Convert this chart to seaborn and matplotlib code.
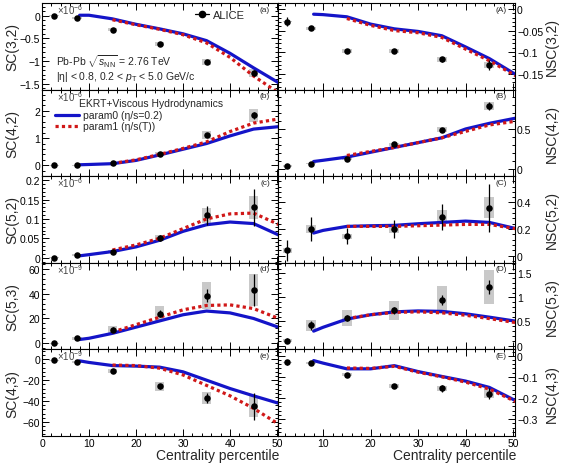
import numpy as np
import matplotlib
matplotlib.use("Agg")
import matplotlib.pyplot as plt
from matplotlib.lines import Line2D
from matplotlib.ticker import MultipleLocator, AutoMinorLocator, FuncFormatter
import seaborn as sns

# centrality bins (ALICE points) and model x grids
cent = [2.5, 7.5, 15, 25, 35, 45]
x_p0 = [8, 10, 15, 20, 25, 30, 35, 40, 45, 51]
x_p1 = [15, 20, 25, 30, 35, 40, 45, 51]

# SC(3,2) x1e-6
sc32 = [0.0, -0.05, -0.31, -0.63, -1.02, -1.26]
sc32_stat = [0.01, 0.01, 0.02, 0.03, 0.05, 0.07]
sc32_sys = [0.01, 0.02, 0.03, 0.04, 0.07, 0.09]
sc32_p0 = [0.01, 0.01, -0.07, -0.19, -0.29, -0.4, -0.55, -0.83, -1.15, -1.52]
sc32_p1 = [-0.09, -0.2, -0.3, -0.42, -0.6, -0.92, -1.33, -1.75]

# NSC(3,2)
nsc32 = [-0.029, -0.045, -0.098, -0.098, -0.117, -0.13]
nsc32_stat = [0.01, 0.002, 0.003, 0.003, 0.005, 0.012]
nsc32_sys = [0.002, 0.003, 0.005, 0.005, 0.006, 0.008]
nsc32_p0 = [-0.012, -0.013, -0.018, -0.035, -0.046, -0.052, -0.062, -0.088, -0.115, -0.155]
nsc32_p1 = [-0.022, -0.038, -0.05, -0.055, -0.066, -0.093, -0.12, -0.158]

# SC(4,2) x1e-6
sc42 = [0.0, 0.0, 0.07, 0.43, 1.11, 1.83]
sc42_stat = [0.005, 0.01, 0.02, 0.04, 0.08, 0.12]
sc42_sys = [0.01, 0.01, 0.03, 0.06, 0.15, 0.25]
sc42_p0 = [0.02, 0.03, 0.06, 0.18, 0.38, 0.59, 0.8, 1.08, 1.33, 1.43]
sc42_p1 = [0.07, 0.2, 0.4, 0.62, 0.86, 1.24, 1.55, 1.72]

# NSC(4,2)
nsc42 = [0.04, 0.07, 0.13, 0.31, 0.49, 0.79]
nsc42_stat = [0.02, 0.01, 0.01, 0.015, 0.02, 0.05]
nsc42_sys = [0.01, 0.01, 0.02, 0.02, 0.03, 0.05]
nsc42_p0 = [0.095, 0.11, 0.15, 0.21, 0.27, 0.33, 0.39, 0.5, 0.57, 0.64]
nsc42_p1 = [0.17, 0.22, 0.27, 0.33, 0.39, 0.47, 0.55, 0.6]

# SC(5,2) x1e-6
sc52 = [0.0, 0.007, 0.016, 0.051, 0.109, 0.13]
sc52_stat = [0.002, 0.002, 0.004, 0.008, 0.025, 0.047]
sc52_sys = [0.001, 0.002, 0.004, 0.008, 0.02, 0.03]
sc52_p0 = [0.005, 0.008, 0.016, 0.028, 0.045, 0.068, 0.085, 0.092, 0.088, 0.055]
sc52_p1 = [0.02, 0.033, 0.05, 0.075, 0.1, 0.113, 0.115, 0.082]

# NSC(5,2)
nsc52 = [0.04, 0.2, 0.145, 0.2, 0.29, 0.36]
nsc52_stat = [0.08, 0.09, 0.06, 0.07, 0.1, 0.18]
nsc52_sys = [0.02, 0.03, 0.02, 0.03, 0.05, 0.08]
nsc52_p0 = [0.17, 0.19, 0.22, 0.225, 0.228, 0.24, 0.25, 0.26, 0.25, 0.2]
nsc52_p1 = [0.22, 0.22, 0.22, 0.225, 0.23, 0.235, 0.235, 0.2]

# SC(5,3) x1e-9
sc53 = [0.0, 4, 10.8, 24, 38.5, 43]
sc53_stat = [0.5, 1, 2, 3, 5, 13]
sc53_sys = [0.5, 1, 3, 6, 11, 13]
sc53_p0 = [3, 4, 8, 13, 18, 23, 26, 24.5, 20, 12]
sc53_p1 = [9, 15, 21, 27, 30.5, 31, 28, 19]

# NSC(5,3)
nsc53 = [0.1, 0.42, 0.57, 0.73, 0.95, 1.22]
nsc53_stat = [0.05, 0.1, 0.07, 0.07, 0.1, 0.15]
nsc53_sys = [0.03, 0.12, 0.17, 0.2, 0.29, 0.35]
nsc53_p0 = [0.3, 0.38, 0.55, 0.64, 0.7, 0.72, 0.71, 0.66, 0.59, 0.5]
nsc53_p1 = [0.56, 0.64, 0.69, 0.7, 0.68, 0.63, 0.56, 0.47]

# SC(4,3) x1e-9
sc43 = [-1, -3, -11, -26, -37, -45]
sc43_stat = [0.5, 1, 1.5, 2.5, 5, 13]
sc43_sys = [0.5, 1, 2, 4, 6, 10]
sc43_p0 = [-1.5, -3, -6, -6.5, -7.5, -12, -20, -28, -35, -43]
sc43_p1 = [-5.5, -6, -8.5, -15, -25, -35, -47, -64]

# NSC(4,3)
nsc43 = [-0.031, -0.036, -0.09, -0.145, -0.155, -0.179]
nsc43_stat = [0.012, 0.01, 0.008, 0.01, 0.015, 0.025]
nsc43_sys = [0.003, 0.005, 0.008, 0.01, 0.013, 0.02]
nsc43_p0 = [-0.023, -0.035, -0.062, -0.062, -0.047, -0.075, -0.098, -0.12, -0.15, -0.218]
nsc43_p1 = [-0.058, -0.06, -0.05, -0.078, -0.1, -0.125, -0.158, -0.222]

sns.set_style("ticks")
plt.rcParams['font.family'] = ['Liberation Sans', 'DejaVu Sans']
plt.rcParams['mathtext.fontset'] = 'custom'
plt.rcParams['mathtext.rm'] = 'Liberation Sans'
plt.rcParams['mathtext.it'] = 'Liberation Sans:italic'
plt.rcParams['mathtext.bf'] = 'Liberation Sans:bold'
plt.rcParams['axes.linewidth'] = 0.8
plt.rcParams['axes.edgecolor'] = 'black'

BLUE = '#1414c8'
RED = '#d01818'
BOX = '#c9c9c9'

W, H = 561, 464
fig = plt.figure(figsize=(W / 100, H / 100), dpi=100)

top_px, bot_px = 4, 437
row_h = (bot_px - top_px) / 5
cols = [(42, 278), (278, 515)]

left_panels = [
    (sc32, sc32_stat, sc32_sys, sc32_p0, sc32_p1, (-1.63, 0.28), 0.5, 'SC(3,2)', '(a)', r'$\times10^{-6}$'),
    (sc42, sc42_stat, sc42_sys, sc42_p0, sc42_p1, (-0.4, 2.78), 1, 'SC(4,2)', '(b)', r'$\times10^{-6}$'),
    (sc52, sc52_stat, sc52_sys, sc52_p0, sc52_p1, (-0.013, 0.21), 0.05, 'SC(5,2)', '(c)', r'$\times10^{-6}$'),
    (sc53, sc53_stat, sc53_sys, sc53_p0, sc53_p1, (-5, 65), 20, 'SC(5,3)', '(d)', r'$\times10^{-9}$'),
    (sc43, sc43_stat, sc43_sys, sc43_p0, sc43_p1, (-73.5, 9.5), 20, 'SC(4,3)', '(e)', r'$\times10^{-9}$'),
]
right_panels = [
    (nsc32, nsc32_stat, nsc32_sys, nsc32_p0, nsc32_p1, (-0.187, 0.014), 0.05, 'NSC(3,2)', '(A)', None),
    (nsc42, nsc42_stat, nsc42_sys, nsc42_p0, nsc42_p1, (-0.088, 0.99), 0.5, 'NSC(4,2)', '(B)', None),
    (nsc52, nsc52_stat, nsc52_sys, nsc52_p0, nsc52_p1, (-0.054, 0.598), 0.2, 'NSC(5,2)', '(C)', None),
    (nsc53, nsc53_stat, nsc53_sys, nsc53_p0, nsc53_p1, (-0.08, 1.72), 0.5, 'NSC(5,3)', '(D)', None),
    (nsc43, nsc43_stat, nsc43_sys, nsc43_p0, nsc43_p1, (-0.38, 0.03), 0.1, 'NSC(4,3)', '(E)', None),
]

fmt = FuncFormatter(lambda v, p: ('%g' % round(v, 6)).replace('-', '\u2212'))

axes = {}
for c, panels in enumerate([left_panels, right_panels]):
    x0, x1 = cols[c]
    for r, (vals, stat, sys_, p0, p1, ylim, major, ylab, tag, scale) in enumerate(panels):
        y_top = top_px + r * row_h
        ax = fig.add_axes([x0 / W, 1 - (y_top + row_h) / H, (x1 - x0) / W, row_h / H])
        axes[(c, r)] = ax
        lo = np.array(vals) - np.array(sys_)
        ax.bar(cent, 2 * np.array(sys_), bottom=lo, width=2.1, color=BOX, zorder=1, linewidth=0)
        sns.lineplot(x=x_p0, y=p0, ax=ax, color=BLUE, linewidth=2.3, zorder=2, legend=False)
        sns.lineplot(x=x_p1, y=p1, ax=ax, color=RED, linewidth=2.3, linestyle=(0, (1, 1)),
                     zorder=3, legend=False)
        ax.errorbar(cent, vals, yerr=stat, fmt='none', ecolor='black', elinewidth=0.9, zorder=4)
        sns.scatterplot(x=cent, y=vals, ax=ax, color='black', s=22, edgecolor='black',
                        linewidth=0, zorder=5, legend=False)

        ax.set_xlim((0, 50.2) if c == 0 else (0.5, 50.4))
        ax.set_ylim(*ylim)
        ax.xaxis.set_major_locator(MultipleLocator(10))
        ax.xaxis.set_minor_locator(AutoMinorLocator(5))
        ax.yaxis.set_major_locator(MultipleLocator(major))
        ax.yaxis.set_minor_locator(AutoMinorLocator(5))
        ax.yaxis.set_major_formatter(fmt)
        ax.tick_params(which='both', direction='in', top=True, bottom=True, left=True, right=True,
                       labelsize=7.5, width=0.7, colors='black')
        ax.tick_params(which='major', length=5)
        ax.tick_params(which='minor', length=2.5)
        ax.tick_params(axis='y', pad=1.5)
        ax.tick_params(axis='x', pad=1.5)
        if c == 1:
            ax.tick_params(labelleft=False, labelright=True)
        if r < 4:
            ax.tick_params(labelbottom=False)
        ax.set_xlabel('')
        ax.set_ylabel('')

        ax.text(0.966, 0.93, tag, transform=ax.transAxes, ha='right', va='center', fontsize=6)
        if scale:
            ax.text(0.062, 0.93, scale, transform=ax.transAxes, ha='left', va='center',
                    fontsize=7, color='#444444')

        yc = 1 - (y_top + row_h / 2) / H
        if c == 0:
            fig.text(12 / W, yc, ylab, rotation=90, ha='center', va='center', fontsize=10)
        else:
            fig.text(552 / W, yc, ylab, rotation=90, ha='center', va='center', fontsize=10)

for c in range(2):
    fig.text(cols[c][1] / W + 0.002, 1 - 456 / H, 'Centrality percentile', ha='right',
             va='center', fontsize=10)

# panel (a) annotations
ax = axes[(0, 0)]
alice = Line2D([], [], color='black', marker='o', markersize=4.5, linewidth=0.9)
leg = ax.legend(handles=[alice], labels=['ALICE'], loc='center left',
                bbox_to_anchor=(0.65, 0.86), frameon=False, fontsize=8, handlelength=1.2,
                handletextpad=0.4, borderpad=0, borderaxespad=0)
ax.text(0.06, 0.33, r'Pb-Pb $\sqrt{s_{\rm NN}}$ = 2.76 TeV', transform=ax.transAxes,
        ha='left', va='center', fontsize=7.5)
ax.text(0.06, 0.155, r'|η| < 0.8, 0.2 < $p_{\rm T}$ < 5.0 GeV/c', transform=ax.transAxes,
        ha='left', va='center', fontsize=7.5)

# panel (b) model legend
ax = axes[(0, 1)]
ax.text(0.155, 0.84, 'EKRT+Viscous Hydrodynamics', transform=ax.transAxes, ha='left',
        va='center', fontsize=7.5)
h0 = Line2D([], [], color=BLUE, linewidth=2.3)
h1 = Line2D([], [], color=RED, linewidth=2.3, linestyle=(0, (1, 1)))
ax.legend(handles=[h0, h1], labels=['param0 (η/s=0.2)', 'param1 (η/s(T))'],
          loc='center left', bbox_to_anchor=(0.055, 0.64), frameon=False, fontsize=7.5,
          handlelength=2.3, handletextpad=0.4, labelspacing=0.1, borderpad=0,
          borderaxespad=0)

fig.savefig('out.png', dpi=100)
